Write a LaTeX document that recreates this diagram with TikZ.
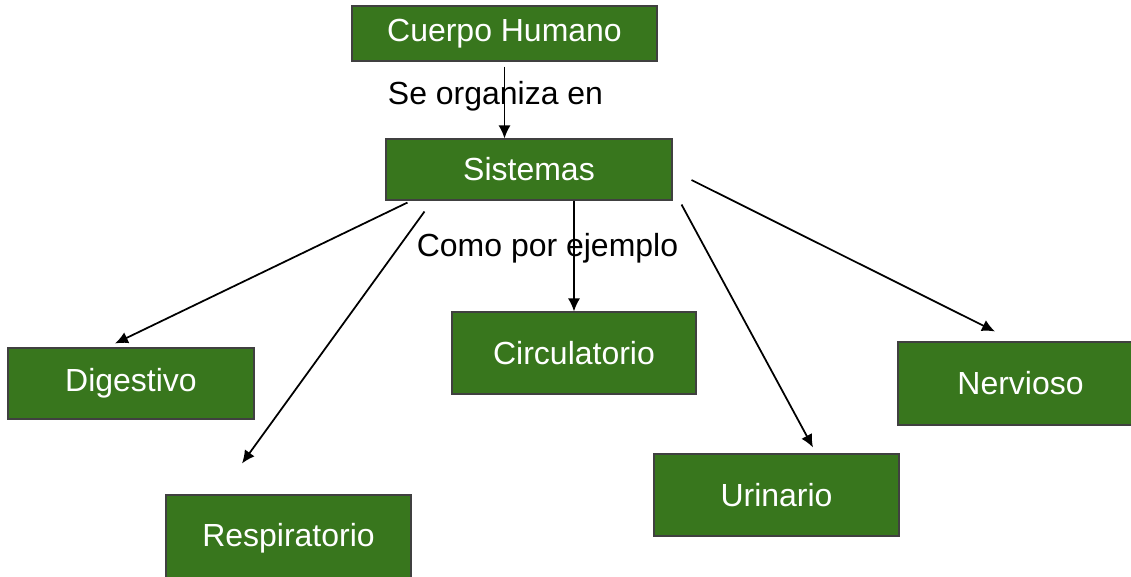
\documentclass[tikz,border=0pt]{standalone}
\usepackage{fontspec}
\setmainfont{Liberation Sans}
\usetikzlibrary{arrows.meta,calc}

\definecolor{boxgreen}{HTML}{38761D}

\begin{document}
\begin{tikzpicture}[
        sysbox/.style={rectangle, draw=black!75, line width=0.3pt, fill=boxgreen,
                       text=white, font=\fontsize{9.1}{11}\selectfont, inner sep=0pt},
        lbl/.style={font=\fontsize{9.1}{11}\selectfont, inner sep=0pt},
        arr/.style={-{Latex[length=1.3mm,width=1.2mm]}, line width=0.5pt}
    ]
        \useasboundingbox (0,0) rectangle (11.31,-5.76);

        % Boxes
        \node[sysbox, minimum width=3.05cm, minimum height=0.55cm] (cuerpo) at (5.045,-0.335) {Cuerpo Humano};
        \node[sysbox, minimum width=2.86cm, minimum height=0.61cm] (sistemas) at (5.29,-1.695) {Sistemas};
        \node[sysbox, minimum width=2.46cm, minimum height=0.71cm] (digestivo) at (1.31,-3.835) {Digestivo};
        \node[sysbox, minimum width=2.45cm, minimum height=0.86cm] (respiratorio) at (2.885,-5.38) {Respiratorio};
        \node[sysbox, minimum width=2.44cm, minimum height=0.82cm] (circulatorio) at (5.74,-3.53) {Circulatorio};
        \node[sysbox, minimum width=2.45cm, minimum height=0.82cm] (urinario) at (7.765,-4.95) {Urinario};
        \node[sysbox, minimum width=2.45cm, minimum height=0.83cm] (nervioso) at (10.205,-3.835) {Nervioso};

        % Link labels
        \node[lbl] (organiza) at (4.955,-0.96) {Se organiza en};
        \node[lbl] (ejemplo) at (5.475,-2.48) {Como por ejemplo};

        % Arrows
        \draw[arr, shorten <=0.05cm] (cuerpo.south) -- (cuerpo.south |- sistemas.north);
        \draw[arr] ($(sistemas.south west)+(0.22,-0.02)$) -- ($(digestivo.north)+(-0.16,0.04)$);
        \draw[arr] ($(sistemas.south west)+(0.39,-0.11)$) -- ($(respiratorio.north)+(-0.465,0.31)$);
        \draw[arr] (sistemas.south -| circulatorio.north) -- (circulatorio.north);
        \draw[arr] ($(sistemas.south east)+(0.09,-0.04)$) -- ($(urinario.north)+(0.365,0.06)$);
        \draw[arr] ($(sistemas.east)+(0.19,-0.105)$) -- ($(nervioso.north)+(-0.255,0.10)$);
    \end{tikzpicture}
\end{document}
